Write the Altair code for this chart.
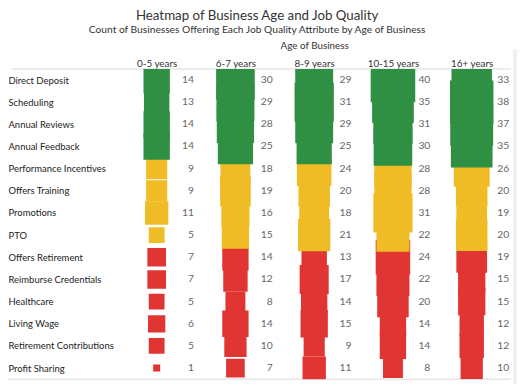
import altair as alt
import pandas as pd

attributes = ["Direct Deposit", "Scheduling", "Annual Reviews", "Annual Feedback",
              "Performance Incentives", "Offers Training", "Promotions", "PTO",
              "Offers Retirement", "Reimburse Credentials", "Healthcare", "Living Wage",
              "Retirement Contributions", "Profit Sharing"]
tiers = ["High", "High", "High", "High", "Mid", "Mid", "Mid", "Mid",
         "Low", "Low", "Low", "Low", "Low", "Low"]
ages = ["0-5 years", "6-7 years", "8-9 years", "10-15 years", "16+ years"]

c_0_5 = [14, 13, 14, 14, 9, 9, 11, 5, 7, 7, 5, 6, 5, 1]
c_6_7 = [30, 29, 28, 25, 18, 19, 16, 15, 14, 12, 8, 14, 10, 7]
c_8_9 = [29, 31, 29, 25, 24, 20, 18, 21, 13, 17, 14, 15, 9, 11]
c_10_15 = [40, 35, 31, 30, 28, 28, 31, 22, 24, 22, 20, 14, 14, 8]
c_16p = [33, 38, 37, 35, 26, 20, 19, 20, 19, 15, 15, 12, 12, 10]

counts = [c_0_5, c_6_7, c_8_9, c_10_15, c_16p]
rows = []
for ai, age in enumerate(ages):
    for ri, attr in enumerate(attributes):
        rows.append({"attr": attr, "age": age, "count": counts[ai][ri],
                     "tier": tiers[ri], "idx": ri})
df = pd.DataFrame(rows).sort_values("idx", ascending=False)

FONT = "Lato"
x_enc = alt.X("age:N", sort=ages,
              scale=alt.Scale(domain=ages, paddingInner=0, paddingOuter=0),
              axis=alt.Axis(orient="top", title="Age of Business", ticks=False,
                            domain=False, labelAngle=0, labelFont=FONT,
                            labelFontSize=10, labelColor="#333333",
                            labelPadding=1, titleFont=FONT, titleFontSize=10,
                            titleFontWeight="normal", titleColor="#333333",
                            titlePadding=8, grid=False))
y_enc = alt.Y("attr:N", sort=attributes,
              scale=alt.Scale(domain=attributes, paddingInner=0, paddingOuter=0),
              axis=alt.Axis(title=None, ticks=False, domain=False, grid=False,
                            labelAlign="left", labelPadding=111, labelFont=FONT,
                            labelFontSize=9.6, labelColor="#222222"))

squares = alt.Chart(df).mark_square(opacity=1, clip=True).encode(
    x=x_enc,
    y=y_enc,
    size=alt.Size("count:Q", scale=alt.Scale(domain=[0, 40], range=[0, 2048]), legend=None),
    color=alt.Color("tier:N", scale=alt.Scale(domain=["High", "Mid", "Low"],
                                              range=["#2f8f43", "#f0bc26", "#e03532"]),
                    legend=None),
    order=alt.Order("idx:Q", sort="descending"),
)

labels = alt.Chart(df).mark_text(align="right", baseline="middle", dx=38,
                                 font=FONT, fontSize=10.5, color="#666666").encode(
    x=alt.X("age:N", sort=ages),
    y=alt.Y("attr:N", sort=attributes),
    text="count:Q",
)

line_df = pd.DataFrame({"k": [0]})
top_line = alt.Chart(line_df).mark_rule(color="#d9d9d9", strokeWidth=1).encode(
    x=alt.value(-107), x2=alt.value(400), y=alt.value(0))
bottom_line = alt.Chart(line_df).mark_rule(color="#d9d9d9", strokeWidth=1).encode(
    x=alt.value(-111), x2=alt.value(400), y=alt.value(315))
side_line = alt.Chart(line_df).mark_rule(color="#f0f0f0", strokeWidth=4).encode(
    x=alt.value(404), y=alt.value(-20), y2=alt.value(320))

chart = alt.layer(top_line, bottom_line, side_line, squares, labels).properties(
    width=400, height=315,
    title=alt.TitleParams(
        text="Heatmap of Business Age and Job Quality",
        subtitle="Count of Businesses Offering Each Job Quality Attribute by Age of Business",
        font=FONT, fontSize=13.5, fontWeight="normal", color="#333333",
        subtitleFont=FONT, subtitleFontSize=10.4, subtitleColor="#333333",
        anchor="middle", dx=-58, offset=5, subtitlePadding=3),
    autosize=alt.AutoSizeParams(type="none"),
    padding={"left": 111, "top": 59, "right": 6, "bottom": 4},
).configure_view(stroke=None)

chart.save("out.html", embed_options={"renderer": "svg", "actions": False})
